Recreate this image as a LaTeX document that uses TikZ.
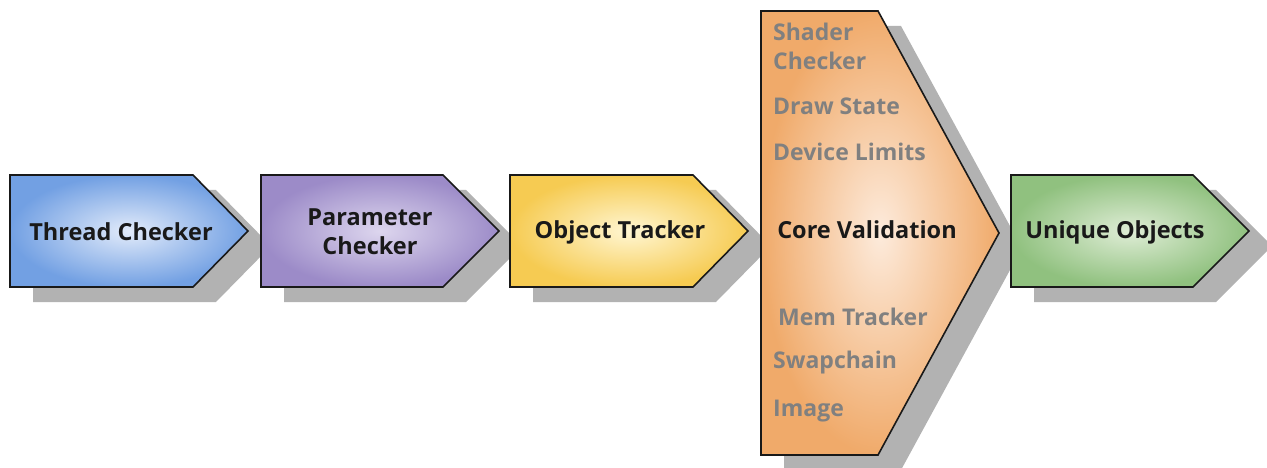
\documentclass[tikz,border=0pt]{standalone}
\usepackage{fontspec}
\setmainfont{Open Sans}
\usetikzlibrary{positioning}
\definecolor{blueout}{HTML}{72A0E3}
\definecolor{bluein}{HTML}{E2EBFA}
\definecolor{purpout}{HTML}{9C8BC8}
\definecolor{purpin}{HTML}{DDD6EE}
\definecolor{yellout}{HTML}{F6CB52}
\definecolor{yellin}{HTML}{FFF6D2}
\definecolor{orngout}{HTML}{F0AA6A}
\definecolor{orngin}{HTML}{FDEBDC}
\definecolor{grnout}{HTML}{90C17F}
\definecolor{grnin}{HTML}{DFEDD6}
\tikzstyle{shadowbox} = [fill=black!30]
\tikzstyle{stage} = [draw=black!90, line width=1.6pt, line join=miter]
\tikzstyle{lbl} = [font=\fontsize{23.5}{29}\selectfont\bfseries, text=black!90, align=center]
\tikzstyle{sublbl} = [font=\fontsize{23}{29}\selectfont\bfseries, text=black!50, anchor=west, inner sep=0pt]
\begin{document}
\begin{tikzpicture}[x=1pt,y=-1pt]
  \useasboundingbox (0,0) rectangle (1267,468);
  % shadows first
  \foreach \l/\s/\t in {10/193/248, 261/443/499, 510/693/748, 1011/1193/1249}
    \fill[shadowbox, shift={(23,15)}] (\l,175) -- (\s,175) -- (\t,231) -- (\s,287) -- (\l,287) -- cycle;
  \fill[shadowbox, shift={(23,15)}] (761,11) -- (878,11) -- (999,233) -- (878,455) -- (761,455) -- cycle;
  % the stages
  \shade[stage, inner color=bluein, outer color=blueout] (10,175) -- (193,175) -- (248,231) -- (193,287) -- (10,287) -- cycle;
  \shade[stage, inner color=purpin, outer color=purpout] (261,175) -- (443,175) -- (499,231) -- (443,287) -- (261,287) -- cycle;
  \shade[stage, inner color=yellin, outer color=yellout] (510,175) -- (693,175) -- (748,231) -- (693,287) -- (510,287) -- cycle;
  \shade[stage, inner color=orngin, outer color=orngout] (761,11) -- (878,11) -- (999,233) -- (878,455) -- (761,455) -- cycle;
  \shade[stage, inner color=grnin, outer color=grnout] (1011,175) -- (1193,175) -- (1249,231) -- (1193,287) -- (1011,287) -- cycle;
  % labels
  \node[lbl] (thread) at (121,232) {Thread Checker};
  \node[lbl] (param) at (370,232) {Parameter\\Checker};
  \node[lbl] (object) at (620,232) {Object Tracker};
  \node[lbl] (core) at (867,230) {Core Validation};
  \node[lbl] (unique) at (1115,232) {Unique Objects};
  % sub-layers inside core validation
  \node[sublbl] (shader) at (773,32) {Shader};
  \node[sublbl] (shaderb) at (773,61) {Checker};
  \node[sublbl] (drawst) at (773,106) {Draw State};
  \node[sublbl] (devlim) at (773,152) {Device Limits};
  \node[sublbl] (memtr) at (778,317) {Mem Tracker};
  \node[sublbl] (swap) at (773,363) {Swapchain};
  \node[sublbl] (image) at (773,411) {Image};
\end{tikzpicture}
\end{document}
